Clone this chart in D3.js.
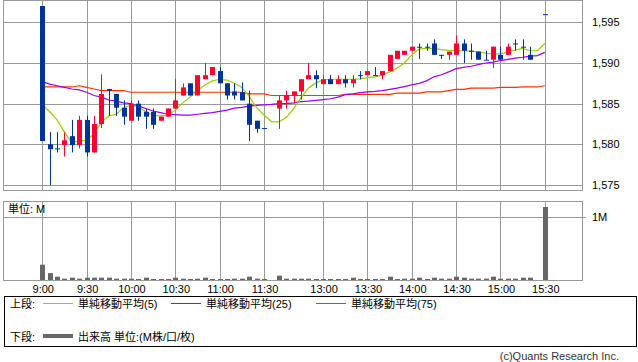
<!DOCTYPE html>
<html>
<head>
<meta charset="utf-8">
<script src="https://cdn.jsdelivr.net/npm/d3@7"></script>
<style>
body { margin: 0; background: #fff; }
text { font-family: "Liberation Sans", "Noto Sans CJK JP", sans-serif; font-size: 11px; fill: #000; }
</style>
</head>
<body>
<div id="chart"></div>
<script>
// slot = 5 minute step from 9:00 (31 = lunch gap, 67 = no trade before the close)
const candleSlot = [0,1,2,3,4,5,6,7,8,9,10,11,12,13,14,15,16,17,18,19,20,21,22,23,24,25,26,27,28,29,30,
  32,33,34,35,36,37,38,39,40,41,42,43,44,45,46,47,48,49,50,51,52,53,54,55,56,57,58,59,60,61,62,63,64,65,66,68];
const opens = [1597.0,1580.0,1579.5,1579.9,1581.0,1579.9,1583.0,1579.0,1582.5,1586.8,1586.2,1584.5,1582.9,1585.0,1584.0,1584.0,1582.9,1583.4,1584.4,1586.0,1587.5,1586.0,1588.0,1588.5,1589.0,1587.5,1586.5,1586.4,1585.0,1582.9,1582.0,
  1584.4,1585.4,1586.0,1586.5,1588.0,1588.5,1587.4,1588.0,1587.4,1588.0,1587.5,1588.5,1588.5,1588.5,1588.5,1589.0,1590.5,1591.0,1591.5,1592.0,1592.0,1592.4,1591.0,1591.0,1591.0,1592.4,1591.5,1591.4,1590.4,1590.4,1591.0,1591.0,1592.4,1592.0,1591.0,1596.0];
const highs = [1597.0,1581.5,1581.5,1581.5,1583.0,1583.5,1583.5,1583.5,1588.6,1586.8,1586.2,1585.4,1585.4,1585.4,1584.4,1584.4,1583.4,1584.4,1588.0,1587.5,1587.5,1588.5,1590.0,1589.5,1589.5,1587.5,1587.5,1587.6,1586.6,1582.9,1582.0,
  1586.0,1586.6,1586.5,1588.0,1590.0,1589.1,1588.5,1588.5,1588.5,1588.5,1588.5,1589.0,1589.0,1589.5,1589.0,1591.0,1591.5,1591.5,1592.0,1592.4,1592.4,1592.9,1591.0,1591.4,1593.4,1592.9,1592.4,1591.4,1591.5,1592.0,1592.0,1592.4,1592.9,1592.9,1592.0,1596.0];
const lows = [1580.4,1575.0,1579.0,1578.5,1579.0,1579.5,1578.5,1579.0,1582.0,1583.5,1583.5,1582.4,1582.9,1582.9,1581.9,1581.9,1582.9,1583.4,1584.4,1586.0,1586.0,1586.0,1588.0,1588.5,1587.5,1585.5,1585.5,1585.4,1580.4,1581.4,1582.0,
  1581.9,1584.4,1585.0,1585.5,1588.0,1586.9,1587.4,1587.4,1587.4,1587.0,1587.0,1588.0,1588.5,1588.5,1588.0,1589.0,1590.5,1591.0,1591.5,1590.5,1591.5,1591.0,1590.5,1590.4,1591.0,1590.0,1590.4,1590.4,1590.4,1589.4,1590.4,1591.0,1591.5,1590.4,1590.4,1596.0];
const closes = [1580.4,1579.4,1579.5,1580.5,1579.9,1583.0,1579.0,1582.5,1586.2,1586.6,1584.5,1583.4,1585.0,1583.4,1583.4,1582.4,1583.4,1584.4,1585.4,1587.0,1586.0,1588.5,1588.5,1589.5,1587.5,1586.0,1586.0,1585.4,1582.4,1581.9,1582.0,
  1585.4,1586.0,1586.5,1588.0,1588.5,1588.0,1588.0,1587.4,1588.0,1587.5,1588.0,1588.5,1589.0,1588.5,1589.0,1591.0,1591.5,1591.5,1592.0,1592.0,1592.0,1591.0,1591.0,1591.4,1592.4,1591.5,1591.5,1590.4,1590.4,1592.0,1590.4,1592.0,1592.4,1592.0,1590.4,1596.0];

// moving averages, one value per slot 0..68
const ma5 = [1584.9,1584.0,1583.0,1581.5,1580.2,1580.45,1580.45,1581.3,1582.7,1583.5,1583.7,1584.5,1584.8,1584.6,1584.0,1583.55,1583.5,1583.55,1584.2,1585.1,1585.8,1586.6,1587.3,1587.8,1588.0,1587.9,1587.5,1587.0,1585.9,1584.5,1583.6,1582.8,1582.75,1583.3,1584.35,1585.7,1586.9,1587.55,1587.9,1588.0,1588.0,1588.0,1588.0,1588.05,1588.2,1588.3,1588.5,1588.9,1589.35,1590.0,1591.0,1591.7,1591.8,1591.8,1591.65,1591.55,1591.5,1591.5,1591.45,1591.35,1591.2,1591.1,1591.15,1591.3,1591.6,1591.8,1591.5,1591.5,1592.4];
const ma25 = [1587.7,1587.4,1587.2,1587.0,1586.8,1586.7,1586.4,1586.0,1585.8,1585.45,1585.3,1585.1,1585.0,1584.7,1584.4,1584.1,1583.9,1583.7,1583.65,1583.6,1583.6,1583.7,1583.8,1583.9,1584.05,1584.2,1584.45,1584.55,1584.7,1584.8,1584.85,1584.9,1585.0,1585.0,1585.1,1585.25,1585.3,1585.4,1585.5,1585.6,1585.8,1586.1,1586.2,1586.35,1586.45,1586.5,1586.6,1586.75,1586.9,1587.1,1587.3,1587.5,1587.8,1588.3,1588.55,1588.9,1589.3,1589.45,1589.6,1589.8,1590.0,1590.1,1590.3,1590.45,1590.6,1590.7,1590.85,1590.9,1591.3];
const ma75 = [1587.05,1587.05,1587.05,1587.05,1587.05,1587.2,1587.0,1586.8,1586.6,1586.6,1586.6,1586.6,1586.4,1586.4,1586.4,1586.4,1586.4,1586.4,1586.4,1586.4,1586.4,1586.4,1586.4,1586.4,1586.4,1586.4,1586.4,1586.4,1586.2,1586.2,1586.2,1586.0,1586.0,1586.0,1586.0,1586.0,1586.0,1586.0,1586.0,1586.0,1586.0,1586.15,1586.15,1586.15,1586.15,1586.15,1586.15,1586.15,1586.3,1586.3,1586.3,1586.3,1586.45,1586.45,1586.45,1586.6,1586.75,1586.75,1586.9,1586.9,1586.9,1586.9,1587.0,1587.0,1587.0,1587.05,1587.05,1587.05,1587.2];

// volume in M, one value per slot 0..68
const volumes = [0.244,0.11,0.053,0.021,0.037,0.021,0.037,0.037,0.037,0.037,0.021,0.021,0.021,0.005,0.037,0.005,0.005,0.005,0.037,0.021,0.005,0.021,0.037,0.005,0.005,0.005,0.021,0.021,0.053,0.021,0.005,0,
  0.069,0.021,0.021,0.021,0.021,0.005,0.005,0.005,0.005,0.005,0.037,0.005,0.005,0.005,0.005,0.053,0.005,0.021,0.021,0.037,0.005,0.037,0.021,0.021,0.053,0.037,0.021,0.021,0.021,0.053,0.021,0.021,0.021,0.037,0.037,0,1.164];

const timeSlots = [0,6,12,18,24,30,38,44,50,56,62,68];
const timeLabels = ["9:00","9:30","10:00","10:30","11:00","11:30","13:00","13:30","14:00","14:30","15:00","15:30"];
const priceTicks = [1575,1580,1585,1590,1595];
const volTicks = [1];

const w = 638, h = 362;
const plotL = 3, plotR = 582;
const upTop = 0, upBottom = 190;
const loTop = 201, loBottom = 280;
const gridColor = "#999";

const svg = d3.select("#chart").append("svg")
    .attr("width", w).attr("height", h);

const xScale = d3.scaleLinear().domain([0, 68]).range([42.3, 544.8]);
const yScale = d3.scaleLinear().domain([1575, 1595]).range([185, 22.3]);
const vScale = d3.scaleLinear().domain([0, 1]).range([loBottom, 217.3]);
const px = v => Math.round(v) + 0.5;

// grid of both panels
const grid = svg.append("g").attr("stroke", gridColor).attr("stroke-width", 1);
[[upTop, upBottom], [loTop, loBottom]].forEach(([t, b]) => {
    grid.selectAll(null).data(timeSlots).enter().append("line")
        .attr("x1", d => px(xScale(d))).attr("x2", d => px(xScale(d)))
        .attr("y1", t).attr("y2", b);
});
grid.selectAll(null).data(priceTicks).enter().append("line")
    .attr("x1", plotL).attr("x2", plotR)
    .attr("y1", d => px(yScale(d))).attr("y2", d => px(yScale(d)));
grid.selectAll(null).data(volTicks).enter().append("line")
    .attr("x1", plotL).attr("x2", plotR + 4)
    .attr("y1", d => px(vScale(d))).attr("y2", d => px(vScale(d)));
grid.append("rect").attr("x", plotL + 0.5).attr("y", upTop + 0.5)
    .attr("width", plotR - plotL).attr("height", upBottom - upTop).attr("fill", "none");
grid.append("rect").attr("x", plotL + 0.5).attr("y", loTop + 0.5)
    .attr("width", plotR - plotL).attr("height", loBottom - loTop).attr("fill", "none");

// price labels
svg.selectAll(".plabel").data(priceTicks).enter().append("text")
    .attr("class", "plabel")
    .attr("x", 592).attr("y", d => yScale(d)).attr("dy", "0.35em")
    .text(d => d3.format(",")(d));
svg.selectAll(".vlabel").data(volTicks).enter().append("text")
    .attr("class", "vlabel")
    .attr("x", 592).attr("y", d => vScale(d)).attr("dy", "0.35em")
    .text(d => d + "M");
svg.selectAll(".tlabel").data(timeLabels).enter().append("text")
    .attr("class", "tlabel")
    .attr("x", (d, i) => xScale(timeSlots[i]) + 1).attr("y", 293)
    .attr("text-anchor", "middle")
    .text(d => d);
svg.append("text").attr("x", 8).attr("y", 213).text("単位: M");

// moving averages
const maLine = d3.line().x((d, i) => xScale(i)).y(d => yScale(d));
[[ma75, "#ff3300"], [ma25, "#9900ff"], [ma5, "#99cc00"]].forEach(([s, c]) => {
    svg.append("path").attr("d", maLine(s))
        .attr("fill", "none").attr("stroke", c).attr("stroke-width", 1.2);
});

// candles
const candles = candleSlot.map((s, i) => ({ s: s, o: opens[i], h: highs[i], l: lows[i], c: closes[i] }));
const candleColor = d => d.c > d.o ? "#ff0033" : "#003399";
const cg = svg.append("g");
cg.selectAll("line").data(candles).enter().append("line")
    .attr("x1", d => px(xScale(d.s))).attr("x2", d => px(xScale(d.s)))
    .attr("y1", d => yScale(d.h)).attr("y2", d => yScale(d.l))
    .attr("stroke", candleColor).attr("stroke-width", 1);
cg.selectAll("rect").data(candles).enter().append("rect")
    .attr("x", d => Math.round(xScale(d.s)) - 2)
    .attr("width", 5)
    .attr("y", d => yScale(Math.max(d.o, d.c)))
    .attr("height", d => Math.max(1, yScale(Math.min(d.o, d.c)) - yScale(Math.max(d.o, d.c))))
    .attr("fill", candleColor);

// volume bars
svg.append("g").selectAll("rect")
    .data(volumes.map((v, i) => ({ s: i, v: v })).filter(d => d.v > 0))
    .enter().append("rect")
    .attr("x", d => Math.round(xScale(d.s)) - 2)
    .attr("width", 5)
    .attr("y", d => Math.min(vScale(d.v), loBottom - 1))
    .attr("height", d => Math.max(1, loBottom - vScale(d.v)))
    .attr("fill", "#666");

// legend
const lg = svg.append("g");
lg.append("rect").attr("x", 4.5).attr("y", 296.5).attr("width", 632).attr("height", 50)
    .attr("fill", "none").attr("stroke", "#000");
lg.append("text").attr("x", 10).attr("y", 308).text("上段:");
lg.append("text").attr("x", 10).attr("y", 341).text("下段:");
const legendItems = [
    { label: "単純移動平均(5)", color: "#99cc00", x: 43 },
    { label: "単純移動平均(25)", color: "#9900ff", x: 171 },
    { label: "単純移動平均(75)", color: "#ff3300", x: 316 }
];
legendItems.forEach(d => {
    lg.append("line").attr("x1", d.x).attr("x2", d.x + 30).attr("y1", 303.5).attr("y2", 303.5)
        .attr("stroke", d.color).attr("stroke-width", 1);
    lg.append("text").attr("x", d.x + 35).attr("y", 308).text(d.label);
});
lg.append("line").attr("x1", 43).attr("x2", 73).attr("y1", 336).attr("y2", 336)
    .attr("stroke", "#666").attr("stroke-width", 4);
lg.append("text").attr("x", 78).attr("y", 341).text("出来高 単位:(M株/口/枚)");

svg.append("text").attr("x", 619).attr("y", 360).attr("text-anchor", "end")
    .style("fill", "#333").text("(c)Quants Research Inc.");
</script>
</body>
</html>
